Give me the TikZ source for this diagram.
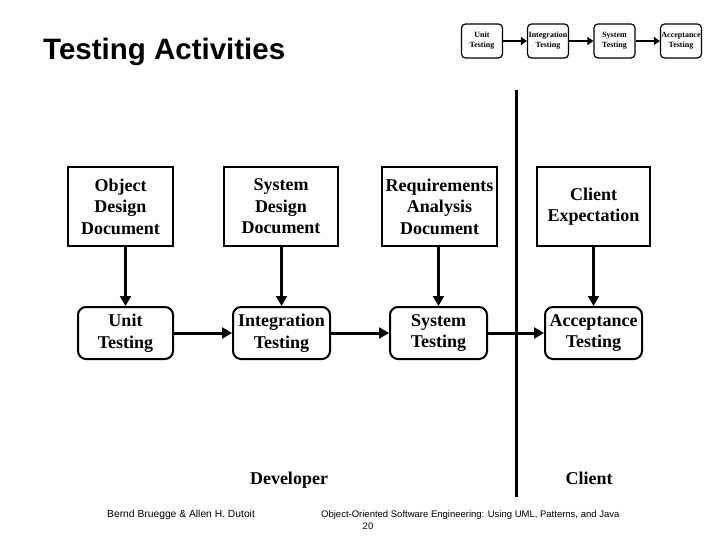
\documentclass[tikz,border=0pt]{standalone}
\usepackage{fontspec}
\setmainfont{Liberation Serif}
\newfontfamily\arialfont{Liberation Sans}
\usetikzlibrary{arrows.meta}
\tikzset{
  docbox/.style={draw, line width=2pt, minimum height=79pt, align=center,
    inner sep=0pt, font=\bfseries\fontsize{18}{21.5}\selectfont},
  actbox/.style={draw, line width=2pt, rounded corners=8pt, minimum height=52pt,
    minimum width=97pt, align=center, inner sep=0pt,
    font=\bfseries\fontsize{18}{21.5}\selectfont},
  minibox/.style={draw, line width=1.2pt, rounded corners=4pt, minimum height=34pt,
    minimum width=41pt, align=center, inner sep=0pt,
    font=\bfseries\fontsize{8}{10}\selectfont},
  bigarrow/.style={line width=3pt, -{Triangle[length=10pt,width=11pt]}},
  miniarrow/.style={line width=2pt, -{Triangle[length=6pt,width=8pt]}},
  lbl/.style={anchor=base, inner sep=0pt, font=\bfseries\fontsize{18}{21.5}\selectfont},
  foot/.style={font=\arialfont\fontsize{9.5}{11}\selectfont, inner sep=0pt}
}
\begin{document}
\begin{tikzpicture}[x=1pt,y=-1pt]
\useasboundingbox (0,0) rectangle (720,540);
\fill[white] (0,0) rectangle (720,540);

\node[anchor=base west, inner sep=0pt, font=\arialfont\bfseries\fontsize{29.5}{34}\selectfont] (title) at (43,60) {Testing Activities};

% mini chain
\node[minibox] (mu) at (482,41) {Unit\\Testing};
\node[minibox] (mi) at (548,41) {Integration\\Testing};
\node[minibox] (ms) at (614.5,41) {System\\Testing};
\node[minibox] (ma) at (681,41) {Acceptance\\Testing};
\draw[miniarrow] (mu) -- (mi);
\draw[miniarrow] (mi) -- (ms);
\draw[miniarrow] (ms) -- (ma);

% documents
\node[docbox, minimum width=105pt] (odd) at (120.5,206.5) {Object\\Design\\Document};
\node[docbox, minimum width=114pt] (sdd) at (281,206.5) {System\\Design\\Document};
\node[docbox, minimum width=115pt] (rad) at (439.5,206.5) {Requirements\\Analysis\\Document};
\node[docbox, minimum width=113pt] (ce) at (593.5,206.5) {Client\\Expectation};

% activities
\node[actbox, minimum width=95pt] (ut) at (125.5,333) {Unit\\Testing};
\node[actbox] (it) at (281.5,333) {Integration\\Testing};
\node[actbox] (st) at (438.5,333) {System\\Testing};
\node[actbox] (at) at (593.5,333) {Acceptance\\Testing};

% separator
\coordinate (septop) at (516,90);
\coordinate (sepbot) at (516,497);
\draw[line width=3pt] (septop) -- (sepbot);

\draw[bigarrow] (ut.north |- odd.south) -- (ut.north);
\draw[bigarrow] (it.north |- sdd.south) -- (it.north);
\draw[bigarrow] (st.north |- rad.south) -- (st.north);
\draw[bigarrow] (at.north |- ce.south) -- (at.north);
\draw[bigarrow] (ut) -- (it);
\draw[bigarrow] (it) -- (st);
\draw[bigarrow] (st) -- (at);

\node[lbl] (dev) at (289,484) {Developer};
\node[lbl] (cli) at (589,484) {Client};

\node[foot, anchor=west, font=\arialfont\fontsize{10.3}{12}\selectfont] (auth) at (107,515) {Bernd Bruegge \& Allen H. Dutoit};
\node[foot, anchor=west] (book) at (321,515) {Object-Oriented Software Engineering: Using UML, Patterns, and Java};
\node[foot] (page) at (368,526) {20};
\end{tikzpicture}
\end{document}
